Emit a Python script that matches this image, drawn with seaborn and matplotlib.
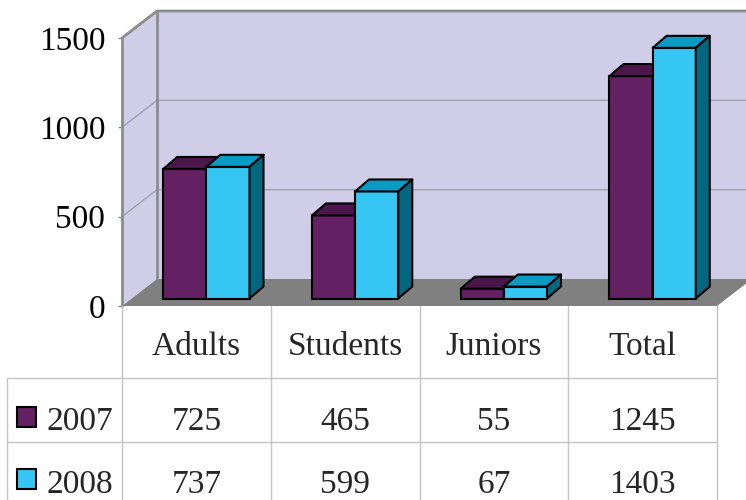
"""Pseudo-3D grouped bar chart with a data table underneath, saved to out.png."""

import matplotlib
matplotlib.use("Agg")

import matplotlib.pyplot as plt
import matplotlib.transforms as mtransforms
import pandas as pd
import seaborn as sns
from matplotlib.lines import Line2D
from matplotlib.patches import Polygon, Rectangle

categories = ["Adults", "Students", "Juniors", "Total"]
years = ["2007", "2008"]
values_2007 = [725, 465, 55, 1245]
values_2008 = [737, 599, 67, 1403]
y_ticks = [0, 500, 1000, 1500]

front_colors = ["#632063", "#36c6f4"]
top_colors = ["#4b164a", "#0a9bc4"]
side_colors = ["#3a0f3a", "#00677f"]
wall_color = "#cfcde8"
floor_color = "#808080"
edge_gray = "#8c8c8c"
table_gray = "#c4c4c4"

W, H = 746, 500
sns.set_theme(style="white")
plt.rcParams["font.family"] = ["Liberation Serif", "DejaVu Serif"]
FS = 24


def fx(px):
    return px / W


def fy(py):
    return 1 - py / H


fig = plt.figure(figsize=(W / 100, H / 100), dpi=100)
fig.patch.set_facecolor("white")
ax = fig.add_axes([fx(122), fy(306), fx(717) - fx(122), fy(38) - fy(306)])

# depth offsets in data units (1 category = 148.75 px, 1500 units = 268 px)
ux, uy = 1 / 148.75, 1500 / 268
wall_dx, wall_dy = 35 * ux, 27 * uy
bar_dx, bar_dy = 14 * ux, 12 * uy
shift_dx, shift_dy = 10 * ux, 7.5 * uy

x0, x1 = -0.5, len(categories) - 0.5
top = y_ticks[-1]
wall_top = top + wall_dy

# walls and floor
ax.add_patch(Polygon([(x0 + wall_dx, wall_dy), (x1 + wall_dx, wall_dy),
                      (x1 + wall_dx, wall_top), (x0 + wall_dx, wall_top)],
                     fc=wall_color, ec="none", clip_on=False, zorder=0))
ax.add_patch(Polygon([(x0, 0), (x0 + wall_dx, wall_dy),
                      (x0 + wall_dx, wall_top), (x0, top)],
                     fc=wall_color, ec="none", clip_on=False, zorder=0))
ax.add_patch(Polygon([(x0, 0), (x1, 0), (x1 + wall_dx, wall_dy), (x0 + wall_dx, wall_dy)],
                     fc=floor_color, ec="none", clip_on=False, zorder=1))

for t in y_ticks[1:-1]:
    ax.plot([x0, x0 + wall_dx, x1 + wall_dx], [t, t + wall_dy, t + wall_dy],
            color="#a09fae", lw=1, clip_on=False, zorder=0.5)
ax.plot([x0, x0 + wall_dx, x1 + wall_dx], [top, wall_top, wall_top],
        color=edge_gray, lw=2, clip_on=False, zorder=0.6)
ax.plot([x0 + wall_dx, x0 + wall_dx], [wall_dy, wall_top],
        color=edge_gray, lw=2, clip_on=False, zorder=0.6)
ax.plot([x0, x0], [0, top], color=edge_gray, lw=2, clip_on=False, zorder=0.6)

# bars
df = pd.DataFrame({
    "category": categories * 2,
    "year": [years[0]] * len(categories) + [years[1]] * len(categories),
    "value": values_2007 + values_2008,
})
sns.barplot(data=df, x="category", y="value", hue="year", order=categories,
            hue_order=years, palette=front_colors, saturation=1, width=0.58,
            edgecolor="black", linewidth=1.5, legend=False, ax=ax)

for i, cont in enumerate(ax.containers):
    for bar in cont:
        bar.set_x(bar.get_x() + shift_dx)
        bar.set_y(shift_dy)
        bar.set_zorder(3 + i)
        bar.set_clip_on(False)
        bx0, bx1 = bar.get_x(), bar.get_x() + bar.get_width()
        by0, by1 = shift_dy, shift_dy + bar.get_height()
        ax.add_patch(Polygon([(bx0, by1), (bx1, by1), (bx1 + bar_dx, by1 + bar_dy),
                              (bx0 + bar_dx, by1 + bar_dy)],
                             fc=top_colors[i], ec="black", lw=1.5, joinstyle="round",
                             clip_on=False, zorder=3 + i))
        ax.add_patch(Polygon([(bx1, by0), (bx1 + bar_dx, by0 + bar_dy),
                              (bx1 + bar_dx, by1 + bar_dy), (bx1, by1)],
                             fc=side_colors[i], ec="black", lw=1.5, joinstyle="round",
                             clip_on=False, zorder=3 + i))

ax.set_xlim(x0, x1)
ax.set_ylim(0, top)
ax.set_yticks(y_ticks)
ax.set_yticklabels([str(t) for t in y_ticks], fontsize=FS, color="black")
ax.set_xticks([])
ax.set_xlabel("")
ax.set_ylabel("")
ax.tick_params(axis="y", left=True, length=3, width=1, color=edge_gray, pad=9)
ax.patch.set_visible(False)
for s in ax.spines.values():
    s.set_visible(False)

# data table
trans = mtransforms.blended_transform_factory(ax.transData, fig.transFigure)
for b in range(len(categories) + 1):
    fig.add_artist(Line2D([b - 0.5, b - 0.5], [fy(306), fy(500)], transform=trans,
                          color=table_gray, lw=1))
fig.add_artist(Line2D([fx(7), fx(7)], [fy(378), fy(500)], color=table_gray, lw=1))
for py in (378, 442):
    fig.add_artist(Line2D([fx(7), fx(717)], [fy(py), fy(py)], color=table_gray, lw=1))

for i, cat in enumerate(categories):
    fig.text(i, fy(355), cat, transform=trans, ha="center", va="baseline", fontsize=FS)

rows = [values_2007, values_2008]
row_base = [430, 493]
key_top = [407, 469]
for r, (year, vals) in enumerate(zip(years, rows)):
    fig.add_artist(Rectangle((fx(17), fy(key_top[r] + 20)), fx(19), fy(0) - fy(20),
                             fc=front_colors[r], ec="black", lw=1.5))
    fig.text(fx(46), fy(row_base[r]), year, ha="left", va="baseline", fontsize=FS)
    for i, v in enumerate(vals):
        fig.text(i, fy(row_base[r]), str(v), transform=trans,
                 ha="center", va="baseline", fontsize=FS)

fig.savefig("out.png", dpi=100, facecolor="white")
